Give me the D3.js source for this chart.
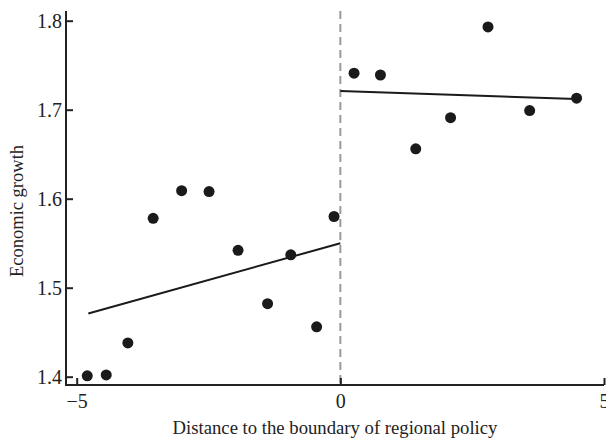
<!DOCTYPE html>
<html>
<head>
<meta charset="utf-8">
<script src="https://cdn.jsdelivr.net/npm/d3@7"></script>
<style>
  body { margin: 0; background: #fff; }
</style>
</head>
<body>
<svg id="chart" width="606" height="439"></svg>
<script>
// binned means, left and right of the boundary
const leftX = [-4.80, -4.44, -4.03, -3.55, -3.01, -2.49, -1.94, -1.38, -0.94, -0.45, -0.12];
const leftY = [1.401, 1.402, 1.438, 1.578, 1.609, 1.608, 1.542, 1.482, 1.537, 1.456, 1.580];
const rightX = [0.26, 0.76, 1.43, 2.09, 2.80, 3.59, 4.48];
const rightY = [1.741, 1.739, 1.656, 1.691, 1.793, 1.699, 1.713];

// fitted lines (endpoints)
const leftFitX = [-4.78, 0];
const leftFitY = [1.471, 1.550];
const rightFitX = [0, 4.47];
const rightFitY = [1.721, 1.712];

const xTicks = [-5, 0, 5];
const yTicks = [1.4, 1.5, 1.6, 1.7, 1.8];

const serif = '"Liberation Serif", "Times New Roman", serif';
const svg = d3.select("#chart");

let x = d3.scaleLinear().domain([-5, 5]).range([76.7, 604]);
let y = d3.scaleLinear().domain([1.4, 1.8]).range([376.7, 20.7]);

const axisLeft = 66, axisBottom = 385, axisTop = 11, axisRight = 604;

// dashed boundary
svg.append("line")
  .attr("x1", x(0)).attr("x2", x(0))
  .attr("y1", axisTop).attr("y2", axisBottom)
  .attr("stroke", "#9a9a9a").attr("stroke-width", 2)
  .attr("stroke-dasharray", "8,5");

// axes
let gx = svg.append("g")
  .attr("transform", `translate(0,${axisBottom})`)
  .call(d3.axisBottom(x).tickValues(xTicks).tickSizeInner(-7).tickSizeOuter(0).tickPadding(9));
let gy = svg.append("g")
  .attr("transform", `translate(${axisLeft},0)`)
  .call(d3.axisLeft(y).tickValues(yTicks).tickFormat(d3.format(".1f")).tickSizeInner(-7).tickSizeOuter(0));
[gx, gy].forEach(g => {
  g.attr("font-family", serif).attr("font-size", 20);
  g.select(".domain").remove();
  g.selectAll(".tick line").attr("stroke", "#222").attr("stroke-width", 2);
  g.selectAll(".tick text").attr("fill", "#222");
});
gy.selectAll(".tick text").attr("x", -4);

svg.append("path")
  .attr("d", `M${axisLeft},${axisTop}V${axisBottom}H${axisRight}`)
  .attr("fill", "none").attr("stroke", "#222").attr("stroke-width", 2);

// fit lines
const line = d3.line().x(d => x(d[0])).y(d => y(d[1]));
svg.append("path")
  .datum(d3.zip(leftFitX, leftFitY))
  .attr("d", line).attr("fill", "none").attr("stroke", "#1a1a1a").attr("stroke-width", 2);
svg.append("path")
  .datum(d3.zip(rightFitX, rightFitY))
  .attr("d", line).attr("fill", "none").attr("stroke", "#1a1a1a").attr("stroke-width", 2);

// points
const pts = d3.zip(leftX, leftY).concat(d3.zip(rightX, rightY));
svg.append("g").selectAll("circle")
  .data(pts)
  .enter().append("circle")
    .attr("cx", d => x(d[0]))
    .attr("cy", d => y(d[1]))
    .attr("r", 5.5)
    .attr("fill", "#1a1a1a");

// titles
svg.append("text")
  .attr("x", 335).attr("y", 434)
  .attr("text-anchor", "middle")
  .attr("font-family", serif).attr("font-size", 18.7).attr("fill", "#222")
  .text("Distance to the boundary of regional policy");
svg.append("text")
  .attr("transform", "translate(23,211) rotate(-90)")
  .attr("text-anchor", "middle")
  .attr("font-family", serif).attr("font-size", 18.5).attr("fill", "#222")
  .text("Economic growth");
</script>
</body>
</html>
